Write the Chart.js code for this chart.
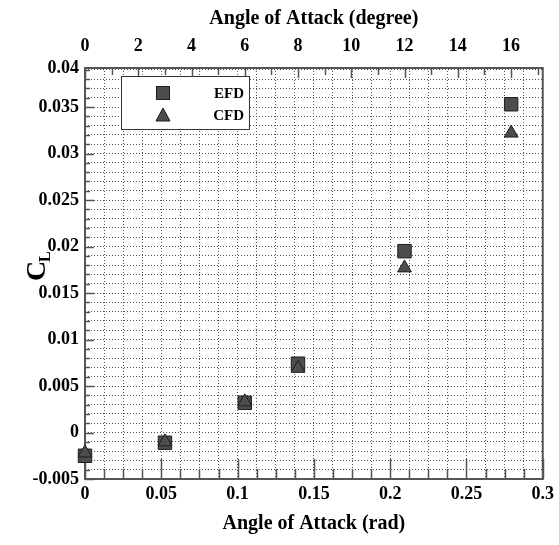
<!DOCTYPE html>
<html>
<head>
<meta charset="utf-8">
<script src="https://cdn.jsdelivr.net/npm/chart.js@4"></script>
<style>
  body { margin: 0; background: #fff; }
  canvas { display: block; }
</style>
</head>
<body>
<canvas id="chart" width="559" height="545"></canvas>
<script>
// angle of attack in rad (3, 6, 8, 12, 16 degree)
const alphaRad = [0, 0.0524, 0.1047, 0.1396, 0.2094, 0.2793];
const efdCL = [-0.0025, -0.0011, 0.0032, 0.0074, 0.0195, 0.0353];
const cfdCL = [-0.0022, -0.0010, 0.0033, 0.0069, 0.0177, 0.0322];

const radTicks = [0, 0.05, 0.1, 0.15, 0.2, 0.25, 0.3];
const degTicks = [0, 2, 4, 6, 8, 10, 12, 14, 16];
const clTicks = [-0.005, 0, 0.005, 0.01, 0.015, 0.02, 0.025, 0.03, 0.035];

const serif = "'Liberation Serif', 'Times New Roman', serif";
const markFill = '#4d4d4d';
const markLine = '#1e1e1e';

const ctx = document.querySelector('#chart');

// minor steps for grid
const xMinor = [];
for (let i = 0; i <= 24; i++) xMinor.push(i / 80);
const yMinor = [];
for (let i = -5; i <= 39; i++) yMinor.push(i / 1000);
const degMinor = [];
for (let i = 0; i <= 17; i++) degMinor.push(i);

function isMajor(v, list) {
  return list.some(t => Math.abs(t - v) < 1e-9);
}

const framePlugin = {
  id: 'frame',
  beforeDatasetsDraw(chart) {
    const c = chart.ctx;
    const a = chart.chartArea;
    const sx = chart.scales.x, sy = chart.scales.y, st = chart.scales.x2;
    c.save();
    c.strokeStyle = '#555';
    c.lineWidth = 1.5;
    c.beginPath();
    // bottom ticks (inward)
    xMinor.forEach(v => {
      const px = Math.round(sx.getPixelForValue(v)) + 0.5;
      const len = isMajor(v, radTicks) ? 20 : 10;
      c.moveTo(px, a.bottom); c.lineTo(px, a.bottom - len);
    });
    // left ticks
    yMinor.forEach(v => {
      const py = Math.round(sy.getPixelForValue(v)) + 0.5;
      const len = isMajor(v, clTicks) ? 9 : 5;
      c.moveTo(a.left, py); c.lineTo(a.left + len, py);
    });
    // top ticks
    degMinor.forEach(v => {
      const px = Math.round(st.getPixelForValue(v)) + 0.5;
      const len = isMajor(v, degTicks) ? 10 : 7;
      c.moveTo(px, a.top); c.lineTo(px, a.top + len);
    });
    c.stroke();

    c.lineWidth = 2;
    c.strokeRect(a.left, a.top, a.right - a.left, a.bottom - a.top);
    c.restore();
  },
  afterDraw(chart) {
    const c = chart.ctx;
    const a = chart.chartArea;
    c.save();
    // legend
    c.fillStyle = '#fff';
    c.fillRect(121, 76, 128, 53);
    c.lineWidth = 1;
    c.strokeStyle = '#333';
    c.strokeRect(121.5, 76.5, 128, 53);
    c.fillStyle = markFill;
    c.strokeStyle = markLine;
    c.fillRect(156, 86, 14, 14);
    c.strokeRect(156.5, 86.5, 13, 13);
    c.beginPath();
    c.moveTo(163, 108); c.lineTo(170, 121); c.lineTo(156, 121); c.closePath();
    c.fill(); c.stroke();
    c.fillStyle = '#000';
    c.font = 'bold 15px ' + serif;
    c.textAlign = 'right';
    c.textBaseline = 'middle';
    c.fillText('EFD', 244, 94);
    c.fillText('CFD', 244, 116);

    // axis titles
    const cx = (a.left + a.right) / 2;
    c.textAlign = 'center';
    c.font = 'bold 20px ' + serif;
    c.fillText('Angle of Attack (degree)', cx, 19);
    c.fillText('Angle of Attack (rad)', cx, 524);

    c.translate(35, 268);
    c.rotate(-Math.PI / 2);
    c.textAlign = 'left';
    c.textBaseline = 'alphabetic';
    c.font = 'bold 28px ' + serif;
    c.fillText('C', -13, 10);
    c.font = 'bold 16px ' + serif;
    c.fillText('L', 6, 15);
    c.restore();
  }
};

const tickFont = { family: serif, size: 18, weight: 'bold' };

new Chart(ctx, {
  type: 'scatter',
  data: {
    datasets: [{
      label: 'CFD',
      data: alphaRad.map((x, i) => ({ x: x, y: cfdCL[i] })),
      pointStyle: 'triangle',
      pointRadius: 8,
      pointHoverRadius: 8,
      backgroundColor: markFill,
      borderColor: markLine,
      borderWidth: 1,
      clip: false
    }, {
      label: 'EFD',
      data: alphaRad.map((x, i) => ({ x: x, y: efdCL[i] })),
      pointStyle: 'rect',
      pointRadius: 9.5,
      pointHoverRadius: 9.5,
      backgroundColor: markFill,
      borderColor: markLine,
      borderWidth: 1,
      clip: false
    }]
  },
  options: {
    responsive: false,
    animation: false,
    layout: { padding: { left: 0, right: 14, top: 0, bottom: 0 } },
    plugins: {
      legend: { display: false },
      tooltip: { enabled: false }
    },
    scales: {
      x: {
        type: 'linear',
        position: 'bottom',
        min: 0,
        max: 0.3,
        afterBuildTicks: s => { s.ticks = xMinor.map(v => ({ value: v })); },
        afterFit: s => { s.height = 66; },
        ticks: {
          autoSkip: false,
          maxRotation: 0,
          padding: 5,
          color: '#000',
          font: tickFont,
          callback: v => isMajor(v, radTicks) ? String(Number(v.toFixed(2))) : ''
        },
        grid: { color: '#555', lineWidth: 1, drawTicks: false },
        border: { display: false, dash: [1, 2] }
      },
      x2: {
        type: 'linear',
        position: 'top',
        min: 0,
        max: 0.3 * 180 / Math.PI,
        afterBuildTicks: s => { s.ticks = degMinor.map(v => ({ value: v })); },
        afterFit: s => { s.height = 68; },
        ticks: {
          autoSkip: false,
          maxRotation: 0,
          padding: 11,
          color: '#000',
          font: tickFont,
          callback: v => isMajor(v, degTicks) ? String(v) : ''
        },
        grid: { display: false, drawTicks: false },
        border: { display: false }
      },
      y: {
        type: 'linear',
        min: -0.005,
        max: 0.0392,
        afterBuildTicks: s => { s.ticks = yMinor.map(v => ({ value: v })).concat([{ value: 0.0392 }]); },
        afterFit: s => { s.width = 85; },
        ticks: {
          autoSkip: false,
          padding: 6,
          color: '#000',
          font: tickFont,
          callback: v => {
            if (v > 0.039) return '0.04';
            return isMajor(v, clTicks) ? String(Number(v.toFixed(3))) : '';
          }
        },
        grid: {
          color: ctx2 => ctx2.tick && ctx2.tick.value > 0.039 ? 'rgba(0,0,0,0)' : '#555',
          lineWidth: 1,
          drawTicks: false
        },
        border: { display: false, dash: [1, 2] }
      }
    }
  },
  plugins: [framePlugin]
});
</script>
</body>
</html>
